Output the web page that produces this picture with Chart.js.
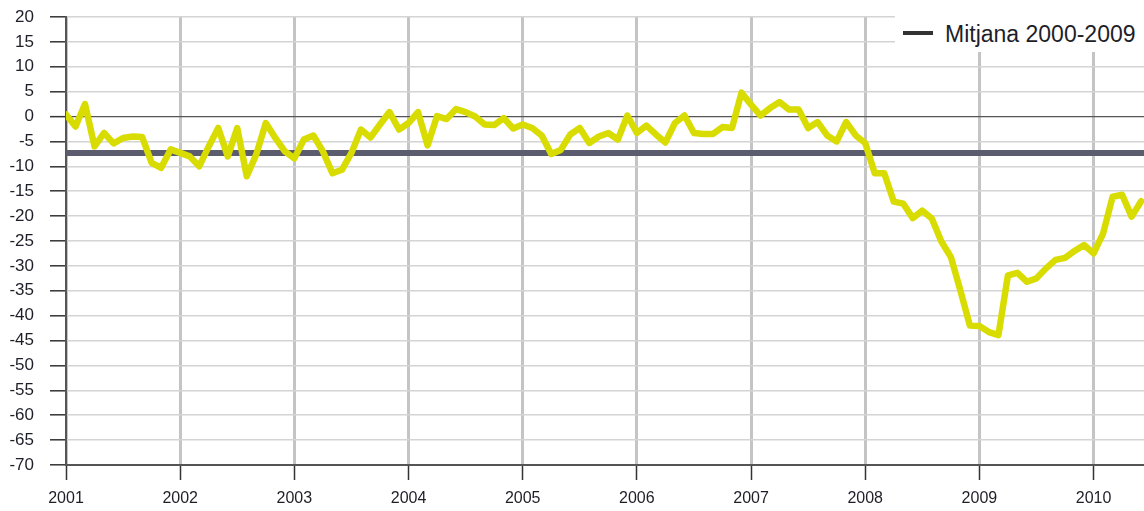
<!DOCTYPE html>
<html>
<head>
<meta charset="utf-8">
<script src="https://cdn.jsdelivr.net/npm/chart.js@4.4.0/dist/chart.umd.min.js"></script>
<style>
    body { margin: 0; background: #fff; }
    #wrap { position: relative; width: 1144px; height: 511px; }
    #legend { position: absolute; left: 895px; top: 0; width: 249px; height: 52px; background: #fff; }
    #legend .swatch { position: absolute; left: 8px; top: 31px; width: 30px; height: 4px; background: #333; }
    #legend .txt { position: absolute; left: 50px; top: 23px; font: 23px "Liberation Sans", Arial, sans-serif; line-height: 22px; color: #1e1e28; white-space: nowrap; }
</style>
</head>
<body>
<div id="wrap">
    <canvas id="chart"></canvas>
    <div id="legend"><span class="swatch"></span><span class="txt">Mitjana 2000-2009</span></div>
</div>
<script>
// monthly values, Jan 2001 .. Jun 2010
const values = [
    0.4, -2, 2.5, -6, -3.3, -5.4, -4.3, -4, -4.1, -9.3, -10.3, -6.6,
    -7.3, -8, -10, -6, -2.3, -8, -2.3, -12, -7.6, -1.3, -4.3, -7,
    -8.4, -4.6, -3.8, -7, -11.4, -10.7, -7.3, -2.6, -4.2, -1.6, 0.9, -2.6,
    -1.3, 0.9, -5.8, 0.1, -0.5, 1.5, 0.9, 0, -1.6, -1.7, -0.3, -2.4,
    -1.6, -2.3, -3.8, -7.5, -6.7, -3.6, -2.3, -5.3, -4, -3.3, -4.6, 0.2,
    -3.3, -1.8, -3.6, -5.2, -1.3, 0.2, -3.3, -3.5, -3.5, -2.1, -2.3, 4.8,
    2.4, 0.2, 1.7, 2.9, 1.4, 1.4, -2.3, -1.1, -3.8, -5, -1.1, -3.8,
    -5.3, -11.4, -11.4, -17.1, -17.5, -20.4, -18.9, -20.5, -25.1, -28.2, -34.9, -42,
    -42.1, -43.3, -43.9, -31.9, -31.4, -33.2, -32.5, -30.5, -28.8, -28.4, -27, -25.8,
    -27.5, -23.5, -16.1, -15.7, -20.1, -17
];
const meanValue = -7.3;
const meanLabel = 'Mitjana 2000-2009';
const years = ['2001', '2002', '2003', '2004', '2005', '2006', '2007', '2008', '2009', '2010'];
const yMin = -70, yMax = 20, yStep = 5;
const xMax = 113.3;

const points = values.map((v, i) => ({ x: i, y: v }));
const yearTicks = years.map((y, i) => i * 12);

Chart.defaults.font.family = '"Liberation Sans", Arial, sans-serif';

new Chart(document.getElementById('chart'), {
    type: 'line',
    data: {
        datasets: [{
            label: 'valor',
            data: points,
            borderColor: '#d9dc00',
            borderWidth: 6.5,
            borderJoinStyle: 'round',
            borderCapStyle: 'round',
            pointRadius: 0,
            tension: 0,
            order: 0
        }, {
            label: meanLabel,
            data: [{ x: 0, y: meanValue }, { x: xMax, y: meanValue }],
            borderColor: '#5b5d6e',
            borderWidth: 6,
            pointRadius: 0,
            order: 1
        }]
    },
    options: {
        responsive: true,
        maintainAspectRatio: false,
        animation: false,
        layout: { padding: { top: 17, right: 0, left: 0, bottom: 0 } },
        plugins: { legend: { display: false }, tooltip: { enabled: false } },
        scales: {
            x: {
                type: 'linear',
                min: 0,
                max: xMax,
                afterBuildTicks: s => { s.ticks = yearTicks.map(v => ({ value: v })); },
                afterFit: s => { s.height = 46; s.paddingLeft = 0; s.paddingRight = 0; },
                ticks: {
                    autoSkip: false,
                    maxRotation: 0,
                    padding: 9,
                    color: '#1e1e28',
                    font: { size: 16 },
                    callback: v => years[v / 12]
                },
                grid: {
                    color: '#c4c4c4',
                    lineWidth: 3,
                    tickColor: '#333',
                    tickWidth: 1.5,
                    tickLength: 15
                },
                border: { color: '#555', width: 2 }
            },
            y: {
                min: yMin,
                max: yMax,
                afterFit: s => { s.width = 66; s.paddingTop = 0; s.paddingBottom = 0; },
                ticks: {
                    stepSize: yStep,
                    padding: 16,
                    color: '#1e1e28',
                    font: { size: 17 }
                },
                grid: {
                    color: c => c.tick && c.tick.value === 0 ? '#555' : '#d4d4d4',
                    lineWidth: c => c.tick && c.tick.value === 0 ? 1.3 : 1.6,
                    tickColor: '#333',
                    tickWidth: 1.5,
                    tickLength: 16
                },
                border: { color: '#555', width: 2 }
            }
        }
    }
});
</script>
</body>
</html>
